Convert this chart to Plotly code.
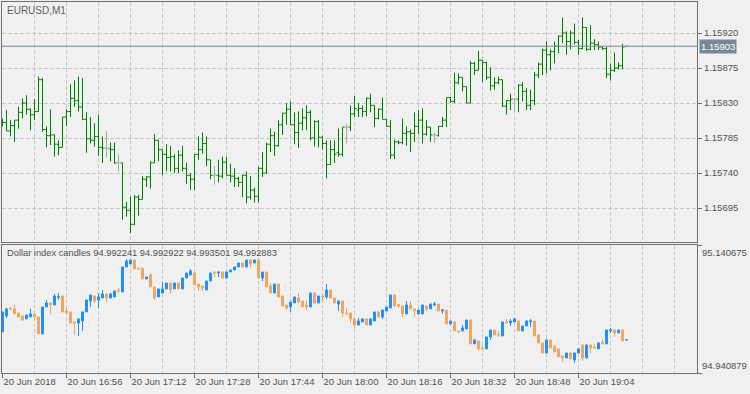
import numpy as np
import pandas as pd
import plotly.graph_objects as go

# ---------------- data ----------------
start_time = "2018-06-20 16:40"

eur_open = [1.15803, 1.15805, 1.15794, 1.15801, 1.15808, 1.15818, 1.15830, 1.15822, 1.15815, 1.15819, 1.15860,
            1.15796, 1.15788, 1.15789, 1.15777, 1.15773, 1.15812, 1.15819, 1.15836, 1.15833, 1.15825,
            1.15809, 1.15784, 1.15782, 1.15787, 1.15773, 1.15772, 1.15771, 1.15770, 1.15753, 1.15753,
            1.15696, 1.15692, 1.15674, 1.15709, 1.15706, 1.15732, 1.15735, 1.15753, 1.15782, 1.15770,
            1.15764, 1.15760, 1.15761, 1.15746, 1.15763, 1.15746, 1.15737, 1.15732, 1.15764, 1.15770,
            1.15778, 1.15757, 1.15737, 1.15737, 1.15736, 1.15754, 1.15737, 1.15736, 1.15733, 1.15728,
            1.15737, 1.15709, 1.15718, 1.15710, 1.15746, 1.15740, 1.15777, 1.15788, 1.15775, 1.15802,
            1.15817, 1.15822, 1.15802, 1.15792, 1.15804, 1.15811, 1.15818, 1.15785, 1.15806, 1.15786,
            1.15778, 1.15751, 1.15770, 1.15766, 1.15764, 1.15799, 1.15799, 1.15816, 1.15821, 1.15823,
            1.15819, 1.15836, 1.15827, 1.15810, 1.15822, 1.15809, 1.15800, 1.15763, 1.15780, 1.15779,
            1.15791, 1.15793, 1.15791, 1.15800, 1.15808, 1.15790, 1.15799, 1.15789, 1.15788, 1.15800,
            1.15808, 1.15837, 1.15832, 1.15856, 1.15863, 1.15851, 1.15830, 1.15881, 1.15872, 1.15885,
            1.15882, 1.15863, 1.15852, 1.15856, 1.15860, 1.15826, 1.15833, 1.15835, 1.15835, 1.15853,
            1.15845, 1.15827, 1.15833, 1.15866, 1.15880, 1.15898, 1.15892, 1.15896, 1.15903, 1.15916,
            1.15920, 1.15909, 1.15920, 1.15908, 1.15900, 1.15927, 1.15899, 1.15907, 1.15905, 1.15902,
            1.15900, 1.15867, 1.15872, 1.15875, 1.15878, 1.15903]

eur_high = [1.15810, 1.15821, 1.15808, 1.15808, 1.15825, 1.15836, 1.15840, 1.15823, 1.15835, 1.15864, 1.15862,
            1.15800, 1.15822, 1.15789, 1.15782, 1.15812, 1.15822, 1.15854, 1.15859, 1.15864, 1.15862,
            1.15818, 1.15812, 1.15804, 1.15815, 1.15787, 1.15794, 1.15779, 1.15779, 1.15764, 1.15753,
            1.15703, 1.15710, 1.15712, 1.15712, 1.15736, 1.15736, 1.15755, 1.15790, 1.15783, 1.15770,
            1.15777, 1.15775, 1.15764, 1.15769, 1.15775, 1.15753, 1.15740, 1.15764, 1.15787, 1.15792,
            1.15787, 1.15757, 1.15749, 1.15757, 1.15761, 1.15761, 1.15752, 1.15746, 1.15735, 1.15738,
            1.15742, 1.15736, 1.15721, 1.15748, 1.15767, 1.15779, 1.15797, 1.15793, 1.15808, 1.15817,
            1.15830, 1.15832, 1.15818, 1.15819, 1.15823, 1.15827, 1.15821, 1.15808, 1.15808, 1.15787,
            1.15782, 1.15782, 1.15782, 1.15797, 1.15799, 1.15803, 1.15827, 1.15839, 1.15830, 1.15827,
            1.15837, 1.15842, 1.15827, 1.15823, 1.15837, 1.15809, 1.15808, 1.15783, 1.15782, 1.15810,
            1.15800, 1.15796, 1.15818, 1.15821, 1.15823, 1.15808, 1.15799, 1.15792, 1.15800, 1.15812,
            1.15837, 1.15838, 1.15869, 1.15868, 1.15863, 1.15851, 1.15884, 1.15883, 1.15897, 1.15885,
            1.15883, 1.15876, 1.15863, 1.15864, 1.15860, 1.15834, 1.15842, 1.15836, 1.15854, 1.15857,
            1.15849, 1.15847, 1.15870, 1.15882, 1.15900, 1.15909, 1.15899, 1.15909, 1.15917, 1.15940,
            1.15922, 1.15923, 1.15932, 1.15911, 1.15940, 1.15927, 1.15930, 1.15912, 1.15909, 1.15902,
            1.15902, 1.15880, 1.15895, 1.15882, 1.15906, 1.15904]

eur_low = [1.15800, 1.15794, 1.15787, 1.15780, 1.15797, 1.15810, 1.15815, 1.15795, 1.15808, 1.15819, 1.15793,
           1.15773, 1.15776, 1.15761, 1.15763, 1.15773, 1.15800, 1.15812, 1.15825, 1.15819, 1.15808,
           1.15766, 1.15778, 1.15774, 1.15762, 1.15753, 1.15760, 1.15755, 1.15752, 1.15742, 1.15680,
           1.15684, 1.15663, 1.15673, 1.15685, 1.15706, 1.15722, 1.15720, 1.15753, 1.15755, 1.15737,
           1.15742, 1.15742, 1.15740, 1.15740, 1.15742, 1.15726, 1.15718, 1.15718, 1.15757, 1.15765,
           1.15749, 1.15732, 1.15725, 1.15728, 1.15733, 1.15737, 1.15728, 1.15722, 1.15722, 1.15709,
           1.15701, 1.15706, 1.15702, 1.15702, 1.15735, 1.15739, 1.15767, 1.15762, 1.15774, 1.15789,
           1.15802, 1.15802, 1.15777, 1.15772, 1.15795, 1.15795, 1.15782, 1.15774, 1.15773, 1.15770,
           1.15733, 1.15751, 1.15753, 1.15761, 1.15761, 1.15778, 1.15794, 1.15812, 1.15812, 1.15812,
           1.15813, 1.15818, 1.15799, 1.15809, 1.15809, 1.15800, 1.15758, 1.15758, 1.15777, 1.15777,
           1.15775, 1.15767, 1.15780, 1.15790, 1.15778, 1.15788, 1.15780, 1.15779, 1.15787, 1.15799,
           1.15799, 1.15830, 1.15830, 1.15854, 1.15845, 1.15830, 1.15830, 1.15866, 1.15872, 1.15857,
           1.15860, 1.15846, 1.15847, 1.15854, 1.15825, 1.15815, 1.15821, 1.15819, 1.15818, 1.15832,
           1.15821, 1.15821, 1.15827, 1.15862, 1.15866, 1.15868, 1.15872, 1.15881, 1.15894, 1.15907,
           1.15892, 1.15899, 1.15905, 1.15892, 1.15899, 1.15897, 1.15898, 1.15898, 1.15898, 1.15898,
           1.15862, 1.15859, 1.15870, 1.15873, 1.15873, 1.15902]

eur_close = [1.15805, 1.15794, 1.15801, 1.15808, 1.15818, 1.15830, 1.15822, 1.15815, 1.15819, 1.15860, 1.15796,
             1.15788, 1.15789, 1.15777, 1.15773, 1.15812, 1.15819, 1.15836, 1.15833, 1.15825, 1.15809,
             1.15784, 1.15782, 1.15787, 1.15773, 1.15772, 1.15772, 1.15770, 1.15753, 1.15753, 1.15696,
             1.15692, 1.15674, 1.15709, 1.15706, 1.15732, 1.15735, 1.15753, 1.15782, 1.15770, 1.15764,
             1.15760, 1.15761, 1.15746, 1.15763, 1.15746, 1.15737, 1.15732, 1.15764, 1.15770, 1.15778,
             1.15757, 1.15737, 1.15737, 1.15736, 1.15754, 1.15737, 1.15736, 1.15733, 1.15728, 1.15737,
             1.15709, 1.15718, 1.15710, 1.15746, 1.15740, 1.15777, 1.15788, 1.15775, 1.15802, 1.15817,
             1.15822, 1.15802, 1.15792, 1.15804, 1.15811, 1.15818, 1.15785, 1.15806, 1.15786, 1.15778,
             1.15751, 1.15770, 1.15764, 1.15764, 1.15799, 1.15799, 1.15816, 1.15823, 1.15823, 1.15819,
             1.15836, 1.15827, 1.15810, 1.15822, 1.15809, 1.15800, 1.15763, 1.15780, 1.15779, 1.15791,
             1.15793, 1.15791, 1.15800, 1.15808, 1.15790, 1.15799, 1.15789, 1.15789, 1.15800, 1.15808,
             1.15837, 1.15832, 1.15856, 1.15863, 1.15851, 1.15830, 1.15881, 1.15872, 1.15885, 1.15882,
             1.15863, 1.15852, 1.15856, 1.15860, 1.15826, 1.15833, 1.15835, 1.15835, 1.15853, 1.15845,
             1.15827, 1.15833, 1.15866, 1.15880, 1.15898, 1.15892, 1.15896, 1.15903, 1.15916, 1.15920,
             1.15909, 1.15920, 1.15908, 1.15900, 1.15927, 1.15899, 1.15907, 1.15905, 1.15902, 1.15900,
             1.15867, 1.15872, 1.15875, 1.15878, 1.15902, 1.15903]

dxy_open = [95.0050, 95.0299, 95.0424, 95.0409, 95.0346, 95.0299, 95.0253, 95.0284, 95.0331, 95.0284, 95.0019,
            95.0440, 95.0502, 95.0471, 95.0590, 95.0611, 95.0377, 95.0362, 95.0206, 95.0190, 95.0221,
            95.0362, 95.0533, 95.0611, 95.0549, 95.0580, 95.0643, 95.0580, 95.0596, 95.0705, 95.0674,
            95.1064, 95.1111, 95.1173, 95.1048, 95.1048, 95.0877, 95.0939, 95.0752, 95.0596, 95.0658,
            95.0721, 95.0814, 95.0721, 95.0814, 95.0721, 95.0892, 95.0939, 95.0970, 95.0798, 95.0767,
            95.0705, 95.0845, 95.0986, 95.0970, 95.0986, 95.0892, 95.0986, 95.1017, 95.1064, 95.1126,
            95.1064, 95.1173, 95.1126, 95.1173, 95.0892, 95.0986, 95.0767, 95.0658, 95.0798, 95.0611,
            95.0471, 95.0440, 95.0502, 95.0580, 95.0533, 95.0471, 95.0440, 95.0658, 95.0502, 95.0611,
            95.0596, 95.0705, 95.0580, 95.0486, 95.0533, 95.0346, 95.0346, 95.0253, 95.0158, 95.0206,
            95.0253, 95.0158, 95.0221, 95.0362, 95.0284, 95.0377, 95.0424, 95.0627, 95.0478, 95.0455,
            95.0331, 95.0471, 95.0409, 95.0331, 95.0331, 95.0455, 95.0409, 95.0471, 95.0486, 95.0377,
            95.0393, 95.0174, 95.0206, 95.0065, 95.0065, 95.0097, 95.0237, 94.9863, 94.9909, 94.9800,
            94.9785, 94.9972, 95.0081, 95.0018, 94.9987, 95.0206, 95.0190, 95.0206, 95.0221, 95.0065,
            95.0143, 95.0206, 95.0221, 95.0003, 94.9878, 94.9722, 94.9925, 94.9831, 94.9785, 94.9675,
            94.9644, 94.9722, 94.9613, 94.9722, 94.9847, 94.9644, 94.9847, 94.9816, 94.9785, 94.9894,
            94.9863, 95.0065, 95.0081, 95.0034, 95.0081, 94.992241]

dxy_high = [95.0362, 95.0424, 95.0440, 95.0471, 95.0346, 95.0299, 95.0315, 95.0409, 95.0331, 95.0284, 95.0440,
            95.0549, 95.0502, 95.0643, 95.0658, 95.0611, 95.0424, 95.0362, 95.0206, 95.0253, 95.0362,
            95.0549, 95.0627, 95.0611, 95.0658, 95.0705, 95.0643, 95.0658, 95.0689, 95.0736, 95.1064,
            95.1189, 95.1173, 95.1173, 95.1048, 95.1048, 95.0908, 95.0970, 95.0752, 95.0721, 95.0830,
            95.0814, 95.0814, 95.0814, 95.0814, 95.0892, 95.0970, 95.1033, 95.0970, 95.0798, 95.0767,
            95.0845, 95.0970, 95.0986, 95.0986, 95.0986, 95.0986, 95.1017, 95.1064, 95.1126, 95.1126,
            95.1173, 95.1173, 95.1173, 95.1173, 95.0986, 95.0986, 95.0814, 95.0798, 95.0798, 95.0611,
            95.0471, 95.0518, 95.0596, 95.0658, 95.0533, 95.0549, 95.0658, 95.0658, 95.0611, 95.0611,
            95.0798, 95.0705, 95.0580, 95.0533, 95.0533, 95.0424, 95.0346, 95.0253, 95.0268, 95.0253,
            95.0253, 95.0253, 95.0362, 95.0362, 95.0393, 95.0440, 95.0627, 95.0627, 95.0486, 95.0455,
            95.0533, 95.0533, 95.0409, 95.0393, 95.0471, 95.0455, 95.0486, 95.0518, 95.0486, 95.0409,
            95.0393, 95.0221, 95.0206, 95.0065, 95.0158, 95.0237, 95.0237, 94.9941, 94.9909, 94.9847,
            94.9972, 95.0081, 95.0081, 95.0065, 95.0206, 95.0253, 95.0253, 95.0268, 95.0221, 95.0143,
            95.0237, 95.0253, 95.0221, 95.0003, 94.9878, 94.9925, 94.9925, 94.9831, 94.9785, 94.9675,
            94.9722, 94.9722, 94.9722, 94.9785, 94.9847, 94.9847, 94.9847, 94.9863, 94.9878, 94.9941,
            95.0081, 95.0112, 95.0081, 95.0081, 95.0081, 94.993501]

dxy_low = [95.0050, 95.0268, 95.0393, 95.0331, 95.0284, 95.0221, 95.0253, 95.0284, 95.0237, 95.0019, 95.0019,
           95.0440, 95.0331, 95.0471, 95.0549, 95.0362, 95.0346, 95.0190, 95.0003, 94.9987, 95.0065,
           95.0362, 95.0440, 95.0502, 95.0424, 95.0580, 95.0518, 95.0580, 95.0596, 95.0658, 95.0674,
           95.1064, 95.1111, 95.1033, 95.1033, 95.0877, 95.0877, 95.0752, 95.0549, 95.0596, 95.0658,
           95.0721, 95.0643, 95.0721, 95.0721, 95.0721, 95.0892, 95.0939, 95.0783, 95.0689, 95.0689,
           95.0705, 95.0845, 95.0908, 95.0908, 95.0892, 95.0892, 95.0986, 95.1017, 95.1064, 95.1064,
           95.1064, 95.1048, 95.1126, 95.0892, 95.0845, 95.0752, 95.0658, 95.0658, 95.0596, 95.0455,
           95.0393, 95.0362, 95.0502, 95.0502, 95.0440, 95.0393, 95.0440, 95.0502, 95.0502, 95.0518,
           95.0564, 95.0580, 95.0502, 95.0377, 95.0284, 95.0331, 95.0190, 95.0104, 95.0158, 95.0206,
           95.0158, 95.0158, 95.0221, 95.0284, 95.0253, 95.0377, 95.0424, 95.0455, 95.0424, 95.0284,
           95.0331, 95.0409, 95.0284, 95.0331, 95.0331, 95.0377, 95.0409, 95.0455, 95.0377, 95.0331,
           95.0174, 95.0174, 95.0065, 95.0034, 95.0065, 95.0097, 94.9863, 94.9863, 94.9753, 94.9785,
           94.9785, 94.9925, 95.0003, 94.9972, 94.9987, 95.0190, 95.0143, 95.0206, 95.0065, 95.0065,
           95.0143, 95.0128, 94.9987, 94.9878, 94.9722, 94.9722, 94.9800, 94.9737, 94.9660, 94.9582,
           94.9644, 94.9629, 94.9566, 94.9722, 94.9597, 94.9644, 94.9722, 94.9800, 94.9785, 94.9863,
           94.9863, 95.0034, 94.9972, 95.0034, 94.9909, 94.992241]

dxy_close = [95.0362, 95.0409, 95.0409, 95.0331, 95.0284, 95.0237, 95.0315, 95.0331, 95.0284, 95.0019, 95.0440,
             95.0502, 95.0471, 95.0611, 95.0598, 95.0362, 95.0346, 95.0190, 95.0190, 95.0253, 95.0362,
             95.0549, 95.0627, 95.0533, 95.0596, 95.0643, 95.0580, 95.0643, 95.0689, 95.0689, 95.1064,
             95.1157, 95.1173, 95.1033, 95.1033, 95.0877, 95.0908, 95.0752, 95.0580, 95.0721, 95.0721,
             95.0814, 95.0705, 95.0814, 95.0721, 95.0892, 95.0970, 95.1001, 95.0783, 95.0752, 95.0736,
             95.0845, 95.0970, 95.0970, 95.0986, 95.0892, 95.0986, 95.1017, 95.1064, 95.1126, 95.1064,
             95.1173, 95.1111, 95.1173, 95.0892, 95.0986, 95.0752, 95.0658, 95.0798, 95.0596, 95.0455,
             95.0424, 95.0518, 95.0596, 95.0518, 95.0440, 95.0440, 95.0658, 95.0502, 95.0611, 95.0596,
             95.0705, 95.0580, 95.0502, 95.0533, 95.0346, 95.0331, 95.0253, 95.0158, 95.0221, 95.0253,
             95.0158, 95.0253, 95.0362, 95.0284, 95.0393, 95.0440, 95.0627, 95.0455, 95.0455, 95.0331,
             95.0471, 95.0409, 95.0377, 95.0393, 95.0471, 95.0409, 95.0486, 95.0486, 95.0377, 95.0393,
             95.0174, 95.0221, 95.0065, 95.0050, 95.0112, 95.0237, 94.9863, 94.9925, 94.9785, 94.9785,
             94.9972, 95.0081, 95.0003, 95.0003, 95.0206, 95.0190, 95.0221, 95.0253, 95.0065, 95.0143,
             95.0221, 95.0221, 94.9987, 94.9878, 94.9722, 94.9925, 94.9800, 94.9737, 94.9660, 94.9644,
             94.9722, 94.9629, 94.9722, 94.9785, 94.9644, 94.9847, 94.9800, 94.9800, 94.9878, 94.9863,
             95.0081, 95.0081, 95.0034, 95.0081, 94.9909, 94.992883]

tick_times = ["2018-06-20 16:40", "2018-06-20 16:56", "2018-06-20 17:12", "2018-06-20 17:28",
              "2018-06-20 17:44", "2018-06-20 18:00", "2018-06-20 18:16", "2018-06-20 18:32",
              "2018-06-20 18:48", "2018-06-20 19:04"]
tick_labels = ["20 Jun 2018", "20 Jun 16:56", "20 Jun 17:12", "20 Jun 17:28", "20 Jun 17:44",
               "20 Jun 18:00", "20 Jun 18:16", "20 Jun 18:32", "20 Jun 18:48", "20 Jun 19:04"]
price_ticks = [1.15695, 1.15740, 1.15785, 1.15830, 1.15875, 1.15920]
current_price = 1.15903
dxy_axis = [94.940879, 95.140675]
dxy_title = "Dollar index candles 94.992241 94.992922 94.993501 94.992883"
eur_title = "EURUSD,M1"

# ---------------- figure ----------------
times = pd.date_range(start_time, periods=len(eur_open), freq="min")
t0 = times[0]
# half-pixel offset so 1px bar lines land on whole pixel columns
x_range = [t0 - pd.Timedelta(seconds=7.5), t0 + pd.Timedelta(minutes=173.75) - pd.Timedelta(seconds=7.5)]
grid_vals = pd.date_range(t0, x_range[1], freq="8min")

o = np.array(eur_open); h = np.array(eur_high); l = np.array(eur_low); c = np.array(eur_close)
doji = np.isclose(o, c, atol=1e-9, rtol=0)

GREEN = "#008000"
DOJI = "#a8a8a8"
BLUE = "#1E90FF"
ORANGE = "#F4A460"
FRAME = "#707070"
GRID = "#c8c8c8"
TXT = "#505050"
FONT = "Liberation Sans"

fig = go.Figure()
fig.add_trace(go.Ohlc(
    x=times[~doji], open=o[~doji], high=h[~doji], low=l[~doji], close=c[~doji],
    increasing=dict(line=dict(color=GREEN, width=1)),
    decreasing=dict(line=dict(color=GREEN, width=1)),
    tickwidth=0.5, xaxis="x", yaxis="y", hoverinfo="skip"))
fig.add_trace(go.Ohlc(
    x=times[doji], open=o[doji], high=h[doji], low=l[doji], close=c[doji],
    increasing=dict(line=dict(color=DOJI, width=1)),
    decreasing=dict(line=dict(color=DOJI, width=1)),
    tickwidth=0.5, xaxis="x", yaxis="y", hoverinfo="skip"))
fig.add_trace(go.Candlestick(
    x=times, open=dxy_open, high=dxy_high, low=dxy_low, close=dxy_close,
    increasing=dict(line=dict(color=BLUE, width=1), fillcolor=BLUE),
    decreasing=dict(line=dict(color=ORANGE, width=1), fillcolor=ORANGE),
    xaxis="x2", yaxis="y2", hoverinfo="skip"))

H_PLOT = 394 - 2 - 21
up_dom = [(373 - 242) / H_PLOT, 1.0]
lo_dom = [0.0, (373 - 245) / H_PLOT]

px_per_unit = 0.00045 / 35.0
y_top = price_ticks[-1] + (33 - 2) * px_per_unit
y_bot = price_ticks[-1] - (242 - 33) * px_per_unit

common_x = dict(type="date", range=x_range, rangeslider=dict(visible=False),
                showgrid=True, gridcolor=GRID, griddash="4px,2px", gridwidth=1,
                minor=dict(tickvals=list(grid_vals), showgrid=True, gridcolor=GRID,
                           griddash="4px,2px", ticks=""),
                showline=True, mirror=True, linecolor=FRAME, linewidth=1, zeroline=False,
                tickvals=tick_times)

fig.update_layout(
    width=750, height=394, margin=dict(l=2, r=53, t=2, b=21, autoexpand=False),
    paper_bgcolor="#f0f0f0", plot_bgcolor="#f0f0f0", showlegend=False,
    font=dict(family=FONT, size=9, color=TXT),
    boxgap=0.3, boxgroupgap=0.3, hovermode=False,
    xaxis=dict(domain=[0, 1], anchor="y", showticklabels=False, ticks="", **common_x),
    xaxis2=dict(domain=[0, 1], anchor="y2", ticktext=tick_labels, ticks="outside",
                ticklen=4, tickcolor=FRAME, ticklabelposition="outside right",
                tickfont=dict(family=FONT, size=9.5, color=TXT), **common_x),
    yaxis=dict(domain=up_dom, anchor="x", side="right", range=[y_bot, y_top],
               tickvals=price_ticks, tickformat=".5f", ticks="outside", ticklen=4,
               tickcolor=FRAME, tickfont=dict(family=FONT, size=9.5, color=TXT),
               showgrid=True, gridcolor=GRID, griddash="4px,2px",
               showline=True, mirror=True, linecolor=FRAME, zeroline=False),
    yaxis2=dict(domain=lo_dom, anchor="x2", side="right", range=dxy_axis,
                tickvals=dxy_axis, showticklabels=False, ticks="outside", ticklen=4,
                tickcolor=FRAME, showgrid=False,
                showline=True, mirror=True, linecolor=FRAME, zeroline=False),
)

fig.add_shape(type="line", xref="x domain", yref="y", x0=0, x1=1,
              y0=current_price, y1=current_price, line=dict(color="#778899", width=1))

ann = []
ann.append(dict(text=eur_title, xref="paper", yref="y domain", x=0, y=1, xanchor="left",
                yanchor="top", xshift=3, yshift=-1, showarrow=False,
                font=dict(family=FONT, size=10, color="#606060")))
ann.append(dict(text=dxy_title, xref="paper", yref="y2 domain", x=0, y=1, xanchor="left",
                yanchor="top", xshift=3, yshift=-1, showarrow=False,
                font=dict(family=FONT, size=9.3, color=TXT)))
ann.append(dict(text=f"{current_price:.5f}", xref="paper", yref="y", x=1, y=current_price,
                xanchor="left", yanchor="middle", xshift=2, showarrow=False,
                bgcolor="#778899", borderpad=1, font=dict(family=FONT, size=9.5, color="white")))
ann.append(dict(text=f"{dxy_axis[1]:.6f}", xref="paper", yref="y2", x=1, y=dxy_axis[1],
                xanchor="left", yanchor="top", xshift=3, showarrow=False,
                font=dict(family=FONT, size=9.5, color=TXT)))
ann.append(dict(text=f"{dxy_axis[0]:.6f}", xref="paper", yref="y2", x=1, y=dxy_axis[0],
                xanchor="left", yanchor="bottom", xshift=3, showarrow=False,
                font=dict(family=FONT, size=9.5, color=TXT)))
fig.update_layout(annotations=ann)

fig.write_html("out.html", config={"displayModeBar": False, "staticPlot": True},
               post_script="document.body.style.margin='0px';")
